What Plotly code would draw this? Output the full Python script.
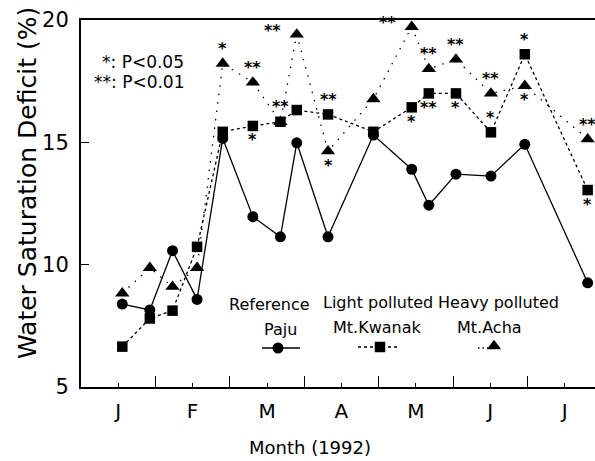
import plotly.graph_objects as go

# ---------------- data ----------------
month_labels = ["J", "F", "M", "A", "M", "J", "J"]
month_label_pos = [0.5, 1.5, 2.5, 3.5, 4.5, 5.5, 6.5]
month_bounds = [1, 2, 3, 4, 5, 6]

# sampling dates expressed in months since 1 Jan 1992
x_month = [0.555, 0.925, 1.23, 1.56, 1.905, 2.31, 2.68, 2.90, 3.32, 3.93,
           4.445, 4.675, 5.04, 5.51, 5.965, 6.81]

paju = [8.39, 8.15, 10.57, 8.58, 15.16, 11.96, 11.14, 14.98, 11.14, 15.30,
        13.90, 12.43, 13.70, 13.62, 14.92, 9.26]
kwanak = [6.65, 7.80, 8.12, 10.73, 15.43, 15.67, 15.84, 16.32, 16.14, 15.43,
          16.43, 17.00, 17.00, 15.41, 18.60, 13.05]
acha = [8.83, 9.87, 9.10, 9.87, 18.22, 17.45, 15.84, 19.41, 14.64, 16.77,
        19.72, 18.00, 18.39, 17.00, 17.31, 15.13]

acha_sig = [None, None, None, None, "*", "**", None, "**", "*", None,
            "**", "**", "**", "**", "*", "**"]
acha_sig_pos = [None, None, None, None, "above", "above", None, "left", "below", None,
                "left", "above", "above", "above", "below", "above"]
kwanak_sig = [None, None, None, None, None, "*", "**", None, "**", None,
              "*", "**", "*", "*", "*", "*"]
kwanak_sig_pos = [None, None, None, None, None, "below", "above", None, "above", None,
                  "below", "below", "below", "above", "above", "below"]

series_names = ["Paju", "Mt.Kwanak", "Mt.Acha"]
series_groups = ["Reference", "Light polluted", "Heavy polluted"]

# ---------------- layout geometry (pixels) ----------------
W, H = 595, 461
L, R, T, B = 81, 0, 20, 74
PW, PH = W - L - R, H - T - B


def px(xp):
    return (xp - L) / PW


def py(yp):
    return (H - B - yp) / PH


FONT = "DejaVu Sans, Liberation Sans, Arial"
BLACK = "black"

fig = go.Figure()

# Mt.Acha (dotted, triangles)
fig.add_trace(go.Scatter(
    x=x_month, y=acha, mode="lines+markers", name=series_names[2],
    line=dict(color=BLACK, width=1.3, dash="1.5px,7px"),
    marker=dict(symbol="triangle-up", size=12.5, color=BLACK),
    showlegend=False))
# Paju (solid, circles)
fig.add_trace(go.Scatter(
    x=x_month, y=paju, mode="lines+markers", name=series_names[0],
    line=dict(color=BLACK, width=1.3),
    marker=dict(symbol="circle", size=11, color=BLACK),
    showlegend=False))
# Mt.Kwanak (dashed, squares)
fig.add_trace(go.Scatter(
    x=x_month, y=kwanak, mode="lines+markers", name=series_names[1],
    line=dict(color=BLACK, width=1.3, dash="3px,3px"),
    marker=dict(symbol="square", size=10.5, color=BLACK),
    showlegend=False))

annotations = []
sig_font = dict(family=FONT, size=16, color=BLACK, weight="bold")


def sig_ann(xv, yv, txt, pos):
    if pos == "above":
        xs, ys = 0, 15
    elif pos == "below":
        xs, ys = 0, -14
    else:
        xs, ys = -24, 4
    return dict(x=xv, y=yv, xref="x", yref="y", text=txt, showarrow=False,
                xanchor="center", yanchor="middle",
                xshift=xs, yshift=ys, font=sig_font)


for xv, yv, s, p in zip(x_month, acha, acha_sig, acha_sig_pos):
    if s:
        annotations.append(sig_ann(xv, yv, s, p))
for xv, yv, s, p in zip(x_month, kwanak, kwanak_sig, kwanak_sig_pos):
    if s:
        annotations.append(sig_ann(xv, yv, s, p))


def paper_text(txt, xp, yp, size, xanchor="center", angle=0):
    return dict(x=px(xp), y=py(yp), xref="paper", yref="paper", text=txt,
                xanchor=xanchor, yanchor="middle", textangle=angle,
                showarrow=False, font=dict(family=FONT, size=size, color=BLACK))


# significance key
annotations.append(paper_text("*: P<0.05", 186, 62, 17, xanchor="right"))
annotations.append(paper_text("**: P<0.01", 186, 82, 17, xanchor="right"))

# custom legend text
for txt, xp, yp in [(series_groups[0], 269, 304), (series_names[0], 280, 329),
                    (series_groups[1], 377.5, 302), (series_names[1], 377, 327),
                    (series_groups[2], 498.7, 302), (series_names[2], 489.5, 327)]:
    annotations.append(paper_text(txt, xp, yp, 16))

# axis titles
annotations.append(paper_text("Water Saturation Deficit (%)", 27, 183, 25, angle=-90))
annotations.append(paper_text("Month (1992)", 310, 448, 18))

# legend keys on an overlay axis that spans the plotting area (0..1 = paper)
fig.add_trace(go.Scatter(x=[px(262), px(300)], y=[py(348), py(348)], mode="lines",
                         line=dict(color=BLACK, width=1.3), xaxis="x2", yaxis="y2",
                         showlegend=False, hoverinfo="skip"))
fig.add_trace(go.Scatter(x=[px(278)], y=[py(348)], mode="markers",
                         marker=dict(symbol="circle", size=11, color=BLACK),
                         xaxis="x2", yaxis="y2", showlegend=False, hoverinfo="skip"))
fig.add_trace(go.Scatter(x=[px(358), px(397)], y=[py(347), py(347)], mode="lines",
                         line=dict(color=BLACK, width=1.3, dash="3px,3px"),
                         xaxis="x2", yaxis="y2", showlegend=False, hoverinfo="skip"))
fig.add_trace(go.Scatter(x=[px(380)], y=[py(347)], mode="markers",
                         marker=dict(symbol="square", size=10.5, color=BLACK),
                         xaxis="x2", yaxis="y2", showlegend=False, hoverinfo="skip"))
fig.add_trace(go.Scatter(x=[px(478), px(494)], y=[py(348), py(348)], mode="lines",
                         line=dict(color=BLACK, width=1.3, dash="1.5px,3px"),
                         xaxis="x2", yaxis="y2", showlegend=False, hoverinfo="skip"))
fig.add_trace(go.Scatter(x=[px(494)], y=[py(346)], mode="markers",
                         marker=dict(symbol="triangle-up", size=12.5, color=BLACK),
                         xaxis="x2", yaxis="y2", showlegend=False, hoverinfo="skip"))

fig.update_layout(
    width=W, height=H,
    margin=dict(l=L, r=R, t=T, b=B, pad=0),
    paper_bgcolor="white", plot_bgcolor="white",
    font=dict(family=FONT, color=BLACK),
    showlegend=False,
    annotations=annotations,
    xaxis=dict(range=[0, PW / 74.4], tickmode="array", tickvals=month_label_pos,
               ticktext=month_labels, ticks="inside", ticklen=4, tickwidth=1.2,
               tickcolor=BLACK, showline=True, linewidth=2, linecolor=BLACK,
               mirror=True, showgrid=False, zeroline=False,
               tickfont=dict(family=FONT, size=20, color=BLACK),
               ticklabelstandoff=5,
               minor=dict(tickmode="array", tickvals=month_bounds, ticks="inside",
                          ticklen=11, tickwidth=1.2, tickcolor=BLACK, showgrid=False)),
    yaxis=dict(range=[5, 20], tickmode="array", tickvals=[5, 10, 15, 20],
               ticks="inside", ticklen=8, tickwidth=1.2, tickcolor=BLACK,
               showline=True, linewidth=2, linecolor=BLACK, showgrid=False,
               zeroline=False, tickfont=dict(family=FONT, size=21, color=BLACK),
               ticklabelstandoff=6),
    xaxis2=dict(overlaying="x", range=[0, 1], visible=False, fixedrange=True),
    yaxis2=dict(overlaying="y", range=[0, 1], visible=False, fixedrange=True),
)

fig.write_html("out.html")
